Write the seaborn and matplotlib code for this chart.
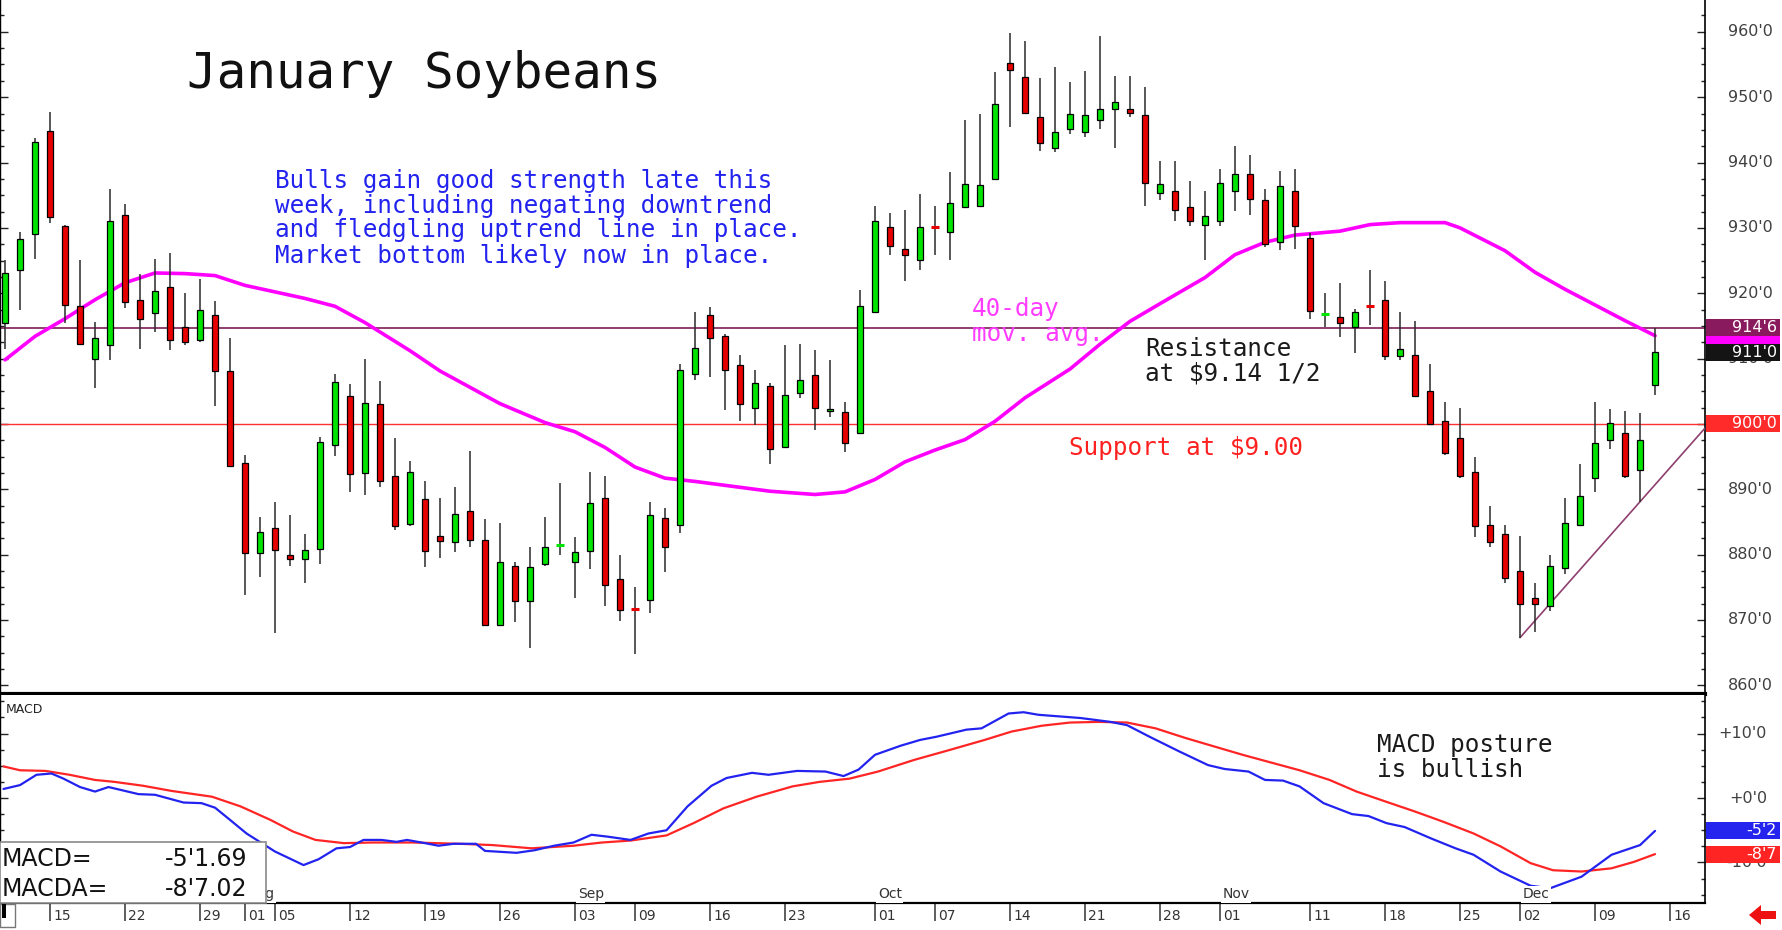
import numpy as np
import pandas as pd
import matplotlib
matplotlib.use("Agg")
import matplotlib.pyplot as plt
import seaborn as sns
from matplotlib.patches import Rectangle, Polygon
from matplotlib.transforms import blended_transform_factory
from matplotlib.ticker import MultipleLocator

# ---------------- data ----------------
opens = [915.4, 923.6, 929.0, 944.9, 930.3, 918.0, 909.9, 912.0, 931.9, 919.0,
         917.0, 921.0, 914.8, 912.9, 916.7, 908.1, 894.0, 880.3, 884.0, 880.0,
         879.4, 880.9, 896.7, 904.2, 892.5, 903.1, 892.1, 884.7, 888.5, 882.9,
         881.9, 886.6, 882.3, 869.2, 878.3, 872.9, 878.6, 881.3, 878.8, 880.5,
         888.6, 876.3, 871.8, 873.1, 885.6, 884.6, 907.7, 916.7, 913.5, 909.0,
         902.5, 905.8, 896.5, 904.7, 907.5, 902.0, 901.8, 898.6, 917.1, 930.2,
         926.7, 925.1, 930.2, 929.3, 933.2, 933.3, 937.5, 955.3, 953.1, 946.9,
         942.2, 945.2, 944.7, 946.5, 948.2, 948.2, 947.3, 935.3, 935.7, 933.2,
         930.5, 931.1, 935.7, 938.2, 934.2, 927.8, 935.7, 928.4, 916.6, 916.4,
         914.8, 918.1, 918.9, 910.4, 910.5, 905.1, 900.4, 897.9, 892.7, 884.6,
         883.1, 877.5, 873.3, 872.1, 877.9, 884.5, 891.7, 897.5, 898.6, 892.9,
         905.9]
highs = [925.1, 929.3, 943.8, 947.7, 930.5, 925.1, 915.6, 935.9, 933.7, 923.0,
         925.3, 926.2, 920.0, 922.1, 918.8, 913.2, 895.3, 885.7, 888.0, 886.0,
         883.1, 898.0, 907.6, 906.1, 910.0, 906.6, 897.8, 894.3, 891.2, 888.6,
         890.3, 895.8, 885.4, 884.8, 878.9, 881.2, 885.7, 891.0, 882.7, 892.7,
         892.0, 879.9, 875.1, 888.1, 887.2, 909.2, 917.1, 917.9, 913.8, 910.5,
         908.2, 906.3, 912.1, 912.3, 911.3, 909.8, 903.4, 920.5, 933.3, 932.2,
         932.8, 935.2, 933.4, 938.6, 946.5, 947.5, 953.8, 959.8, 958.6, 953.0,
         954.6, 952.3, 954.0, 959.4, 953.3, 953.3, 951.5, 940.3, 940.3, 937.1,
         935.6, 939.0, 942.5, 941.1, 935.9, 938.7, 939.0, 929.2, 920.0, 921.5,
         917.6, 923.5, 921.8, 917.1, 915.7, 909.2, 903.4, 902.5, 895.0, 887.4,
         884.6, 882.9, 875.7, 880.0, 888.7, 893.9, 903.4, 902.3, 901.9, 901.7,
         914.7]
lows = [911.4, 917.4, 925.2, 930.8, 915.5, 912.0, 905.5, 909.8, 917.8, 911.4,
        914.1, 911.3, 912.0, 912.5, 902.7, 893.4, 873.8, 876.5, 868.0, 878.3,
        875.7, 878.6, 895.1, 889.6, 889.1, 890.3, 883.8, 884.4, 878.1, 879.5,
        880.4, 881.2, 869.2, 869.2, 869.7, 865.7, 878.3, 879.9, 873.3, 877.8,
        872.1, 869.9, 864.8, 871.0, 877.3, 883.3, 906.7, 907.2, 902.2, 900.4,
        899.8, 893.8, 896.5, 904.0, 899.0, 901.1, 895.7, 898.4, 917.1, 925.8,
        921.9, 923.6, 925.9, 925.1, 933.2, 933.2, 937.4, 945.5, 947.6, 941.8,
        941.6, 944.3, 943.9, 945.1, 942.2, 946.9, 933.3, 934.3, 931.1, 930.3,
        925.1, 930.3, 932.6, 932.0, 927.0, 926.6, 926.7, 916.1, 914.8, 913.3,
        910.9, 915.2, 909.8, 909.8, 904.1, 899.8, 895.3, 891.8, 882.7, 881.1,
        875.6, 867.3, 868.1, 871.4, 877.0, 884.4, 889.6, 896.1, 891.8, 888.1,
        904.4]
closes = [923.1, 928.3, 943.2, 931.7, 918.2, 912.3, 913.1, 931.1, 918.7, 916.1,
          920.3, 912.9, 912.5, 917.4, 908.1, 893.6, 880.3, 883.4, 880.7, 879.4,
          880.7, 897.3, 906.4, 892.3, 903.2, 891.3, 884.4, 892.7, 880.5, 882.1,
          886.2, 882.2, 869.2, 878.8, 872.9, 878.1, 881.2, 881.4, 880.4, 887.9,
          875.4, 871.6, 871.7, 886.0, 881.2, 908.2, 911.6, 913.1, 908.2, 903.0,
          906.3, 896.1, 904.4, 906.7, 902.5, 902.3, 897.1, 918.1, 931.1, 927.2,
          925.9, 930.2, 930.1, 933.8, 936.7, 936.5, 948.9, 954.2, 947.6, 943.0,
          944.7, 947.4, 947.2, 948.2, 949.2, 947.6, 936.9, 936.7, 932.7, 931.1,
          931.8, 936.9, 938.2, 934.4, 927.6, 936.4, 930.3, 917.3, 916.8, 915.4,
          917.2, 918.0, 910.4, 911.5, 904.2, 900.0, 895.6, 892.1, 884.4, 881.9,
          876.4, 872.4, 872.5, 878.2, 884.9, 888.9, 897.1, 900.1, 892.1, 897.6,
          911.0]

# 40-day moving average, read at candle positions
ma_idx = [0, 2, 4, 6, 8, 10, 12, 14, 16, 20, 22, 24, 27, 29, 31, 33, 36, 38, 40,
          42, 44, 46, 48, 51, 54, 56, 58, 60, 62, 64, 66, 68, 71, 73, 75, 77, 80,
          82, 84, 86, 89, 91, 93, 96, 97, 100, 102, 104, 106, 108, 110]
ma_val = [909.8, 913.4, 916.1, 919.0, 921.6, 923.1, 923.0, 922.7, 921.2, 919.2,
          918.0, 915.5, 911.2, 908.1, 905.6, 903.1, 900.2, 898.8, 896.4, 893.4,
          891.7, 891.2, 890.6, 889.7, 889.2, 889.6, 891.5, 894.2, 896.0, 897.6,
          900.4, 904.0, 908.4, 912.2, 915.7, 918.4, 922.4, 925.9, 927.8, 928.9,
          929.5, 930.5, 930.8, 930.8, 930.0, 926.5, 923.2, 920.6, 918.2, 915.8,
          913.5]

# MACD (blue) and MACD average (red), read at date positions
macd_idx = [-0.1, 1.0, 2.1, 3.1, 3.9, 5.0, 6.0, 6.9, 8.9, 10.0, 11.9, 13.1, 14.0,
            14.9, 16.1, 18.0, 19.9, 20.9, 22.1, 23.0, 23.9, 25.1, 26.1, 26.8,
            28.0, 28.9, 29.9, 31.4, 32.0, 34.1, 35.3, 36.6, 37.9, 39.1, 40.2,
            41.7, 42.9, 44.1, 45.5, 47.1, 48.1, 49.8, 50.9, 52.8, 54.7, 55.9,
            56.9, 58.0, 59.7, 61.0, 62.1, 64.1, 65.1, 66.9, 67.9, 68.9, 71.7,
            73.7, 74.8, 76.3, 78.3, 80.2, 81.3, 82.9, 84.0, 85.2, 86.3, 87.9,
            89.8, 90.9, 92.1, 93.3, 95.1, 96.7, 97.9, 99.7, 101.7, 103.0, 105.1,
            107.1, 109.0, 110.0]
macd_val = [1.4, 2.0, 3.6, 3.8, 3.0, 1.7, 1.0, 1.7, 0.6, 0.5, -0.7, -0.8, -1.5,
            -3.2, -5.5, -8.3, -10.4, -9.5, -7.8, -7.6, -6.5, -6.5, -6.8, -6.5,
            -7.0, -7.4, -7.1, -7.1, -8.2, -8.5, -8.1, -7.4, -6.9, -5.7, -6.0,
            -6.5, -5.5, -5.0, -1.3, 1.9, 3.1, 3.9, 3.6, 4.2, 4.1, 3.4, 4.4, 6.7,
            8.1, 9.0, 9.5, 10.6, 10.8, 13.1, 13.3, 12.9, 12.4, 11.8, 11.3, 9.5,
            7.2, 5.1, 4.5, 4.1, 2.8, 2.7, 1.8, -0.8, -2.5, -2.8, -3.9, -4.5, -6.3,
            -7.8, -8.8, -11.4, -13.6, -14.0, -12.2, -8.8, -7.3, -5.1]
sig_idx = [-0.1, 1.0, 2.7, 4.3, 6.0, 7.3, 9.2, 11.1, 13.8, 15.7, 17.7, 19.2, 20.7,
           22.6, 24.5, 27.2, 30.3, 32.5, 35.1, 37.9, 39.8, 41.7, 44.1, 45.9, 47.9,
           50.1, 52.5, 54.3, 56.3, 58.2, 60.6, 62.9, 65.3, 67.1, 69.1, 71.0, 72.9,
           74.8, 76.7, 78.7, 80.6, 82.5, 84.4, 86.3, 88.3, 90.1, 92.1, 94.0, 95.9,
           97.9, 99.7, 101.7, 103.2, 105.1, 107.1, 108.6, 110.0]
sig_val = [4.9, 4.3, 4.2, 3.6, 2.8, 2.5, 1.9, 1.1, 0.2, -1.3, -3.4, -5.2, -6.5,
           -7.0, -6.9, -6.9, -7.1, -7.3, -7.8, -7.4, -6.9, -6.6, -5.8, -3.9, -1.6,
           0.2, 1.8, 2.5, 3.0, 4.1, 5.9, 7.4, 9.0, 10.3, 11.2, 11.7, 11.8, 11.7,
           10.8, 9.3, 8.0, 6.7, 5.5, 4.3, 2.8, 1.0, -0.6, -2.1, -3.7, -5.5, -7.5,
           -10.1, -11.2, -11.4, -10.9, -9.9, -8.7]

date_tick_idx = [3, 8, 13, 16, 18, 23, 28, 33, 38, 42, 47, 52, 58, 62, 67, 72,
                 77, 81, 87, 92, 97, 101, 106, 111]
date_tick_lab = ["15", "22", "29", "01", "05", "12", "19", "26", "03", "09", "16",
                 "23", "01", "07", "14", "21", "28", "01", "11", "18", "25", "02",
                 "09", "16"]
month_idx = [16, 38, 58, 81, 101]
month_lab = ["Aug", "Sep", "Oct", "Nov", "Dec"]

price_ticks = [860, 870, 880, 890, 910, 920, 930, 940, 950, 960]
macd_ticks = [10, 0, -10]
macd_tick_lab = ["+10'0", "+0'0", "-10'0"]

resistance = 914.75
support = 900.0
trend_from = (101, 867.3)
trend_thru = (109, 888.1)

title = "January Soybeans"
comment_lines = ["Bulls gain good strength late this",
                 "week, including negating downtrend",
                 "and fledgling uptrend line in place.",
                 "Market bottom likely now in place."]
ma_note = ["40-day", "mov. avg."]
res_note = ["Resistance", "at $9.14 1/2"]
sup_note = "Support at $9.00"
macd_note = ["MACD posture", "is bullish"]
macd_box = [("MACD=", "-5'1.69"), ("MACDA=", "-8'7.02")]
last_labels = {"res": "914'6", "close": "911'0", "sup": "900'0",
               "macd": "-5'2", "sig": "-8'7"}

# ---------------- styling ----------------
GREEN = "#00e400"
RED = "#e80000"
MAG = "#ff00ff"
RESC = "#8e3f6e"
BLUE = "#2323f0"
MRED = "#ff2525"

sns.set_theme(style="white")
plt.rcParams["font.family"] = ["DejaVu Sans"]

W, H = 1782, 930
fig = plt.figure(figsize=(W / 100, H / 100), dpi=100)
fig.patch.set_facecolor("white")


def fx(x):
    return x / W


def fy(y):
    return 1 - y / H


ax = fig.add_axes([0, fy(694), 1705 / W, 694 / H])
ax2 = fig.add_axes([0, fy(903), 1705 / W, (903 - 695) / H])

xlim = (-1 / 3, 113.33)
ax.set_xlim(*xlim)
ax2.set_xlim(*xlim)
ax.set_ylim(858.67, 964.87)
ax2.set_ylim(-16.28, 15.97)

# ---------------- candles ----------------
idx = np.arange(len(closes))
o = np.array(opens)
c = np.array(closes)
h = np.array(highs)
l = np.array(lows)
up = c >= o
cols = np.where(up, GREEN, RED)
body = np.abs(c - o)
doji = body < 0.25

ax.vlines(idx, l, h, color="#2a2a2a", lw=1.1, zorder=4)
ax.bar(idx[~doji], body[~doji], bottom=np.minimum(o, c)[~doji], width=0.45,
       color=cols[~doji], edgecolor="black", linewidth=0.9, zorder=5)
ax.hlines(c[doji], idx[doji] - 0.28, idx[doji] + 0.28, colors=cols[doji], lw=2.2, zorder=5)

# ---------------- lines ----------------
ax.axhline(resistance, color=RESC, lw=1.4, zorder=2)
ax.axhline(support, color="#ff3030", lw=1.0, zorder=2)
slope = (trend_thru[1] - trend_from[1]) / (trend_thru[0] - trend_from[0])
tx = np.array([trend_from[0], xlim[1]])
ax.plot(tx, trend_from[1] + slope * (tx - trend_from[0]), color=RESC, lw=1.2, zorder=3)

ma_df = pd.DataFrame({"i": ma_idx, "v": ma_val})
sns.lineplot(data=ma_df, x="i", y="v", ax=ax, color=MAG, lw=2.6, sort=False,
             estimator=None, zorder=3)

macd_df = pd.DataFrame({"i": macd_idx, "v": macd_val})
sig_df = pd.DataFrame({"i": sig_idx, "v": sig_val})
sns.lineplot(data=sig_df, x="i", y="v", ax=ax2, color=MRED, lw=1.6, sort=False,
             estimator=None, zorder=3)
sns.lineplot(data=macd_df, x="i", y="v", ax=ax2, color=BLUE, lw=1.6, sort=False,
             estimator=None, zorder=4)

for a in (ax, ax2):
    a.set_xlabel("")
    a.set_ylabel("")
    a.set_facecolor("white")
    a.grid(False)

# ---------------- spines & ticks ----------------
for s in ax.spines.values():
    s.set_color("black")
ax.spines["top"].set_visible(False)
ax.spines["left"].set_linewidth(1.0)
ax.spines["right"].set_linewidth(1.2)
ax.spines["bottom"].set_linewidth(3.0)
ax.set_xticks([])
ax.yaxis.set_major_locator(MultipleLocator(10))
ax.yaxis.set_minor_locator(MultipleLocator(2.5))
ax.tick_params(axis="y", which="major", left=True, right=True, direction="in",
               length=6, width=1, color="#222222", labelleft=False, labelright=False)
ax.tick_params(axis="y", which="minor", left=True, right=True, direction="in",
               length=3, width=1, color="#222222")

for s in ax2.spines.values():
    s.set_color("black")
ax2.spines["top"].set_visible(False)
ax2.spines["left"].set_linewidth(1.0)
ax2.spines["right"].set_linewidth(1.2)
ax2.spines["bottom"].set_linewidth(1.6)
ax2.yaxis.set_major_locator(MultipleLocator(10))
ax2.yaxis.set_minor_locator(MultipleLocator(2.5))
ax2.tick_params(axis="y", which="major", left=True, right=True, direction="in",
                length=6, width=1, color="#222222", labelleft=False, labelright=False)
ax2.tick_params(axis="y", which="minor", left=True, right=True, direction="in",
                length=3, width=1, color="#222222")
ax2.set_xticks(date_tick_idx)
ax2.set_xticklabels([])
ax2.tick_params(axis="x", which="major", bottom=True, direction="out", length=13,
                width=1.1, color="#333333")

# date labels
trx = blended_transform_factory(ax2.transData, ax2.transAxes)
for i, lab in zip(date_tick_idx, date_tick_lab):
    ax2.annotate(lab, xy=(i, 0), xycoords=trx, xytext=(2.2, -4.5),
                 textcoords="offset points", ha="left", va="top", fontsize=10,
                 color="#333333", annotation_clip=False)
for i, lab in zip(month_idx, month_lab):
    ax2.annotate(lab, xy=(i, 0), xycoords=trx, xytext=(2.0, 1.2),
                 textcoords="offset points", ha="left", va="bottom", fontsize=10,
                 color="#333333", zorder=6,
                 bbox=dict(facecolor="white", edgecolor="none", pad=1.0))

# right price labels
trp = blended_transform_factory(ax.transAxes, ax.transData)
for v in price_ticks:
    ax.text(1728 / 1705, v, f"{v}'0", transform=trp, ha="left", va="center",
            fontsize=11.5, color="#404040", clip_on=False)


def right_band(axis, val, half, color, z):
    tr = blended_transform_factory(axis.transAxes, axis.transData)
    axis.add_patch(Rectangle((1706 / 1705, val - half), 74 / 1705, 2 * half,
                             transform=tr, facecolor=color, edgecolor="none",
                             clip_on=False, zorder=z))


def right_box(axis, val, half, color, text, z):
    right_band(axis, val, half, color, z)
    tr = blended_transform_factory(axis.transAxes, axis.transData)
    axis.text(1777 / 1705, val, text, transform=tr, ha="right", va="center",
              fontsize=11.5, color="white", clip_on=False, zorder=z + 0.1)


half_p = 8.5 / 6.535
right_band(ax, ma_val[-1], half_p, MAG, 10)
right_box(ax, resistance, half_p, "#8a1a5e", last_labels["res"], 11)
right_box(ax, closes[-1], half_p, "#141414", last_labels["close"], 11)
right_box(ax, support, half_p, "#ff2a2a", last_labels["sup"], 11)

trm = blended_transform_factory(ax2.transAxes, ax2.transData)
for v, lab in zip(macd_ticks, macd_tick_lab):
    ax2.text(1767 / 1705, v, lab, transform=trm, ha="right", va="center",
             fontsize=11.5, color="#404040", clip_on=False, zorder=5)
half_m = 8.5 / 6.45
right_box(ax2, macd_val[-1], half_m, "#2424ee", last_labels["macd"], 10)
right_box(ax2, sig_val[-1], half_m, "#ff2424", last_labels["sig"], 11)

# ---------------- annotations ----------------
mono = "DejaVu Sans Mono"
fig.text(fx(187), fy(87.5), title, fontsize=35.5, family=mono, color="#111111",
         va="baseline", ha="left")
for k, line in enumerate(comment_lines):
    fig.text(fx(275), fy(187.5 + 25 * k), line, fontsize=17.5, family=mono,
             color=BLUE, va="baseline", ha="left")
for k, line in enumerate(ma_note):
    fig.text(fx(972), fy(316 + 25 * k), line, fontsize=17.5, family=mono,
             color="#ff3cff", va="baseline", ha="left")
for k, line in enumerate(res_note):
    fig.text(fx(1145), fy(356 + 25 * k), line, fontsize=17.5, family=mono,
             color="#1a1a1a", va="baseline", ha="left")
fig.text(fx(1069), fy(455), sup_note, fontsize=17.5, family=mono, color="#ff2020",
         va="baseline", ha="left")
for k, line in enumerate(macd_note):
    fig.text(fx(1377), fy(752 + 25 * k), line, fontsize=17.5, family=mono,
             color="#1a1a1a", va="baseline", ha="left")
fig.text(fx(6), fy(713), "MACD", fontsize=9, color="#222222", va="baseline", ha="left")

# MACD value box
fig.patches.append(Rectangle((fx(0), fy(903)), 266 / W, 61 / H, transform=fig.transFigure,
                             facecolor="white", edgecolor="#8a8a8a", lw=1.2, zorder=5))
for k, (name, val) in enumerate(macd_box):
    yb = 866 + 30 * k
    fig.text(fx(2), fy(yb), name, fontsize=17, color="#111111", va="baseline",
             ha="left", zorder=6)
    fig.text(fx(247), fy(yb), val, fontsize=17, color="#111111", va="baseline",
             ha="right", zorder=6)

# small scroll marker (bottom left) and red arrow (bottom right)
fig.patches.append(Rectangle((fx(0), fy(927)), 15 / W, 23 / H, transform=fig.transFigure,
                             facecolor="white", edgecolor="#777777", lw=1, zorder=5))
fig.patches.append(Rectangle((fx(2), fy(918)), 4 / W, 14 / H, transform=fig.transFigure,
                             facecolor="black", edgecolor="none", zorder=6))
arrow_px = [(1749, 915), (1761, 905), (1761, 911), (1776, 911), (1776, 919),
            (1761, 919), (1761, 925)]
fig.patches.append(Polygon([(fx(x), fy(y)) for x, y in arrow_px], closed=True,
                           transform=fig.transFigure, facecolor="#ee1111",
                           edgecolor="none", zorder=6))

fig.savefig("out.png", dpi=100, facecolor="white")
